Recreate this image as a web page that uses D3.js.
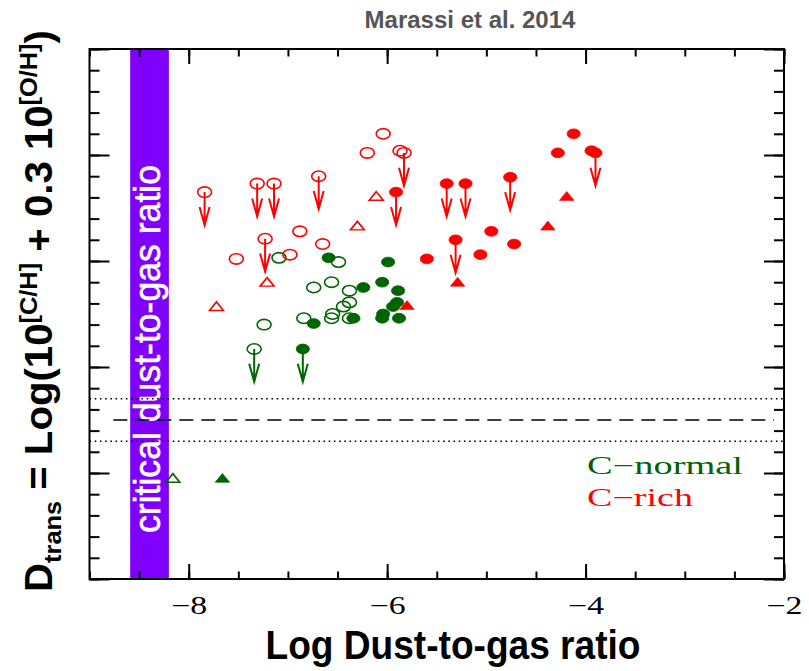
<!DOCTYPE html>
<html>
<head>
<meta charset="utf-8">
<script src="https://cdn.jsdelivr.net/npm/d3@7"></script>
<style>
  html, body { margin: 0; padding: 0; background: #fff; }
  svg { display: block; }
</style>
</head>
<body>
<svg id="chart" width="809" height="671"></svg>
<script>
// ---------------- DATA ----------------
const xMajorTicks = [-8, -6, -4, -2];
const xTickLabels = ["\u22128", "\u22126", "\u22124", "\u22122"];
const xMinorTicks = [-9, -8.5, -8, -7.5, -7, -6.5, -6, -5.5, -5, -4.5, -4, -3.5, -3, -2.5, -2];
const yMajorTicks = [-5, -4, -3, -2, -1, 0];
const yMinorTicks = d3.range(-5, 0.001, 0.2).map(v => +v.toFixed(1));

const criticalBand = [-8.59, -8.2];
const dtransCritical = -3.5;
const dtransBounds = [-3.3, -3.7];
const limitLength = 0.31;

// C-rich stars
const richCircFilledX = [-5.60, -5.06, -4.95, -4.72, -4.28, -4.12, -3.94];
const richCircFilledY = [-1.98, -1.94, -1.72, -1.84, -0.98, -0.80, -0.96];
const richLimFilledX  = [-5.91, -5.40, -5.21, -4.76, -5.31, -3.90];
const richLimFilledY  = [-1.35, -1.27, -1.27, -1.21, -1.80, -0.98];
const richTriFilledX  = [-5.80, -5.29, -4.38, -4.19];
const richTriFilledY  = [-2.43, -2.21, -1.68, -1.40];
const richCircOpenX   = [-7.52, -6.98, -6.88, -6.65, -6.20, -6.04, -5.87];
const richCircOpenY   = [-1.98, -1.94, -1.72, -1.84, -0.98, -0.80, -0.96];
const richLimOpenX    = [-7.84, -7.31, -7.14, -6.69, -7.23, -5.83];
const richLimOpenY    = [-1.35, -1.27, -1.27, -1.20, -1.79, -0.98];
const richTriOpenX    = [-7.72, -7.21, -6.30, -6.11];
const richTriOpenY    = [-2.44, -2.21, -1.68, -1.40];

// C-normal stars
const normCircFilledX = [-6.59, -5.99, -6.24, -6.05, -5.89, -5.90, -5.94, -6.04, -6.05, -5.88, -6.34, -6.74];
const normCircFilledY = [-1.97, -2.01, -2.25, -2.20, -2.28, -2.39, -2.43, -2.50, -2.54, -2.54, -2.54, -2.59];
const normLimFilledX  = [-6.85];
const normLimFilledY  = [-2.83];
const normTriFilledX  = [-7.66];
const normTriFilledY  = [-4.06];
const normCircOpenX   = [-7.09, -6.49, -6.74, -6.56, -6.38, -6.38, -6.44, -6.55, -6.56, -6.38, -6.84, -7.24];
const normCircOpenY   = [-1.97, -2.01, -2.25, -2.20, -2.28, -2.39, -2.43, -2.50, -2.54, -2.54, -2.54, -2.60];
const normLimOpenX    = [-7.34];
const normLimOpenY    = [-2.83];
const normTriOpenX    = [-8.16];
const normTriOpenY    = [-4.06];

// ---------------- CHART ----------------
const RED = "#ff0000", GREEN = "#006400", VIOLET = "#7f00ff";
const svg = d3.select("#chart");
const x = d3.scaleLinear().domain([-9, -2]).range([89.5, 784]);
const y = d3.scaleLinear().domain([-5, 0]).range([579, 49]);
const zip = (xs, ys) => xs.map((v, i) => [v, ys[i]]);

// band
svg.append("rect")
  .attr("x", x(criticalBand[0])).attr("width", x(criticalBand[1]) - x(criticalBand[0]))
  .attr("y", y(0)).attr("height", y(-5) - y(0))
  .attr("fill", VIOLET);

svg.append("text")
  .attr("transform", `translate(${x(criticalBand[1]) - 9},349) rotate(-90)`)
  .attr("text-anchor", "middle")
  .attr("fill", "#fff").attr("stroke", "#fff").attr("stroke-width", 0.6)
  .style("font-family", "'Liberation Sans', Arial, sans-serif")
  .style("font-size", "37px")
  .attr("textLength", 368).attr("lengthAdjust", "spacingAndGlyphs")
  .text("critical dust-to-gas ratio");

// reference lines
svg.append("line")
  .attr("x1", x(-8.76)).attr("x2", x(-2.1))
  .attr("y1", y(dtransCritical)).attr("y2", y(dtransCritical))
  .attr("stroke", "#000").attr("stroke-width", 1.4).attr("stroke-dasharray", "14,8");
dtransBounds.forEach(v => {
  svg.append("line")
    .attr("x1", x(-9)).attr("x2", x(-2))
    .attr("y1", y(v)).attr("y2", y(v))
    .attr("stroke", "#000").attr("stroke-width", 1.4).attr("stroke-dasharray", "1.6,3.6");
});

// axes ticks
function tickAxis(axisGen, transform, values, size) {
  const g = svg.append("g").attr("transform", transform)
    .call(axisGen.tickValues(values).tickSize(size).tickFormat(""));
  g.select(".domain").remove();
  g.selectAll(".tick line").attr("stroke", "#000").attr("stroke-width", 2);
  return g;
}
tickAxis(d3.axisBottom(x), `translate(0,${y(-5)})`, xMinorTicks, -7.5);
tickAxis(d3.axisBottom(x), `translate(0,${y(-5)})`, xMajorTicks, -15);
tickAxis(d3.axisTop(x), `translate(0,${y(0)})`, xMinorTicks, -7.5);
tickAxis(d3.axisTop(x), `translate(0,${y(0)})`, xMajorTicks, -15);
tickAxis(d3.axisLeft(y), `translate(${x(-9)},0)`, yMinorTicks, -10);
tickAxis(d3.axisLeft(y), `translate(${x(-9)},0)`, yMajorTicks, -20);
tickAxis(d3.axisRight(y), `translate(${x(-2)},0)`, yMinorTicks, -10);
tickAxis(d3.axisRight(y), `translate(${x(-2)},0)`, yMajorTicks, -20);

// tick labels
const xl = svg.append("g").attr("transform", `translate(0,${y(-5)})`)
  .call(d3.axisBottom(x).tickValues(xMajorTicks).tickSize(0).tickPadding(17)
    .tickFormat((d, i) => xTickLabels[i]));
xl.select(".domain").remove();
xl.selectAll("text")
  .style("font-family", "'Liberation Serif', 'Times New Roman', serif")
  .style("font-size", "25px").attr("fill", "#000")
  .attr("textLength", 36).attr("lengthAdjust", "spacingAndGlyphs");

// frame
svg.append("rect")
  .attr("x", x(-9)).attr("y", y(0))
  .attr("width", x(-2) - x(-9)).attr("height", y(-5) - y(0))
  .attr("fill", "none").attr("stroke", "#000").attr("stroke-width", 2);

// markers
const RX = 7, RY = 5.2;
function circles(pts, color, filled) {
  svg.append("g").selectAll("ellipse").data(pts).join("ellipse")
    .attr("cx", d => x(d[0])).attr("cy", d => y(d[1]))
    .attr("rx", filled ? RX - 0.4 : RX).attr("ry", filled ? RY - 0.3 : RY)
    .attr("fill", filled ? color : "none")
    .attr("stroke", color).attr("stroke-width", filled ? 0.8 : 1.6);
}
function triangles(pts, color, filled) {
  const tri = d3.symbol().type(d3.symbolTriangle).size(filled ? 64 : 58);
  svg.append("g").selectAll("path").data(pts).join("path")
    .attr("d", tri)
    .attr("transform", d => `translate(${x(d[0])},${y(d[1])}) scale(1.2,0.85)`)
    .attr("fill", filled ? color : "none")
    .attr("stroke", color).attr("stroke-width", filled ? 0.6 : 1.6);
}
function limits(pts, color, filled) {
  const g = svg.append("g");
  g.selectAll("path").data(pts).join("path")
    .attr("d", d => {
      const px = x(d[0]), y0 = y(d[1]), y1 = y(d[1] - limitLength);
      return `M${px},${y0}L${px},${y1}M${px - 5},${y1 - 18}L${px},${y1}L${px + 5},${y1 - 18}`;
    })
    .attr("fill", "none").attr("stroke", color).attr("stroke-width", 2);
  circles(pts, color, filled);
}

circles(zip(normCircFilledX, normCircFilledY), GREEN, true);
circles(zip(normCircOpenX, normCircOpenY), GREEN, false);
limits(zip(normLimFilledX, normLimFilledY), GREEN, true);
limits(zip(normLimOpenX, normLimOpenY), GREEN, false);
triangles(zip(normTriFilledX, normTriFilledY), GREEN, true);
triangles(zip(normTriOpenX, normTriOpenY), GREEN, false);

circles(zip(richCircFilledX, richCircFilledY), RED, true);
circles(zip(richCircOpenX, richCircOpenY), RED, false);
limits(zip(richLimFilledX, richLimFilledY), RED, true);
limits(zip(richLimOpenX, richLimOpenY), RED, false);
triangles(zip(richTriFilledX, richTriFilledY), RED, true);
triangles(zip(richTriOpenX, richTriOpenY), RED, false);

// legend
const legendFont = "'Liberation Serif', 'Times New Roman', serif";
svg.append("text").attr("x", 587).attr("y", 474)
  .attr("fill", GREEN).style("font-family", legendFont).style("font-size", "25px")
  .attr("textLength", 156).attr("lengthAdjust", "spacingAndGlyphs")
  .text("C\u2212normal");
svg.append("text").attr("x", 587).attr("y", 506)
  .attr("fill", RED).style("font-family", legendFont).style("font-size", "25px")
  .attr("textLength", 106).attr("lengthAdjust", "spacingAndGlyphs")
  .text("C\u2212rich");

// title
svg.append("text").attr("x", 470).attr("y", 28)
  .attr("text-anchor", "middle").attr("fill", "#555")
  .style("font-family", "'Liberation Sans', Arial, sans-serif")
  .style("font-weight", "bold").style("font-size", "24px")
  .text("Marassi et al. 2014");

// x label
svg.append("text").attr("x", 453).attr("y", 659)
  .attr("text-anchor", "middle").attr("fill", "#000")
  .style("font-family", "'Liberation Sans', Arial, sans-serif")
  .style("font-weight", "bold").style("font-size", "40px")
  .attr("textLength", 375).attr("lengthAdjust", "spacingAndGlyphs")
  .text("Log Dust-to-gas ratio");

// y label
const yl = svg.append("text")
  .attr("text-anchor", "middle").attr("fill", "#000")
  .style("font-family", "'Liberation Sans', Arial, sans-serif")
  .style("font-weight", "bold").style("font-size", "38px");
const parts = [
  ["D", 38, 0], ["trans", 24, 9], [" = Log(10", 38, -9], ["[C/H]", 24, -15],
  [" + 0.3 10", 38, 15], ["[O/H]", 24, -15], [")", 38, 15]
];
parts.forEach(p => {
  yl.append("tspan").style("font-size", p[1] + "px").attr("dy", p[2]).text(p[0]);
});
const natural = yl.node().getComputedTextLength();
const sx = 562 / natural;
yl.attr("transform", `translate(52,311) rotate(-90) scale(${sx},1)`);
</script>
</body>
</html>
